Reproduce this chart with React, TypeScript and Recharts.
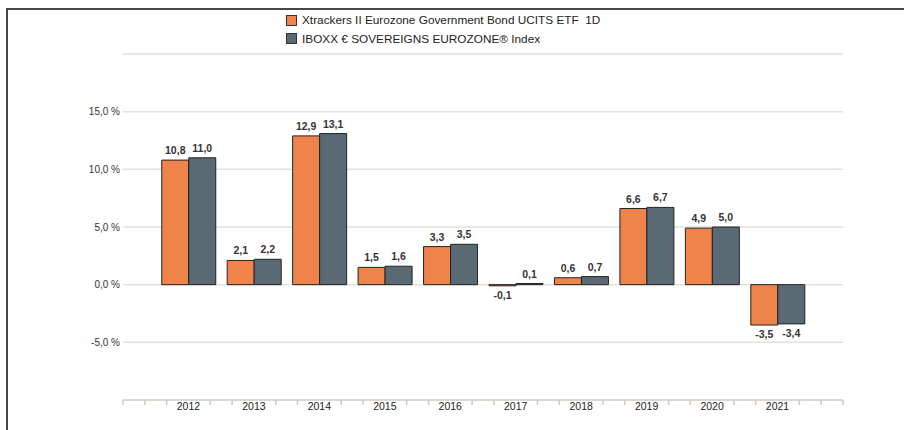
import React from 'react';
import { BarChart, Bar, XAxis, YAxis, CartesianGrid, Legend, LabelList } from 'recharts';

const years = ['2012', '2013', '2014', '2015', '2016', '2017', '2018', '2019', '2020', '2021'];
const etfReturns = [10.8, 2.1, 12.9, 1.5, 3.3, -0.1, 0.6, 6.6, 4.9, -3.5];
const indexReturns = [11.0, 2.2, 13.1, 1.6, 3.5, 0.1, 0.7, 6.7, 5.0, -3.4];
const yTicks = [-10, -5, 0, 5, 10, 15, 20];
const yLabelled = [-5, 0, 5, 10, 15];

const ETF_NAME = 'Xtrackers II Eurozone Government Bond UCITS ETF  1D';
const INDEX_NAME = 'IBOXX € SOVEREIGNS EUROZONE® Index';
const seriesOrder = [ETF_NAME, INDEX_NAME];

const FONT = "'Liberation Sans', Arial, sans-serif";

const data = years.map((year, i) => ({
  year,
  etf: etfReturns[i],
  index: indexReturns[i],
}));

const fmt = (v: number) => v.toFixed(1).replace('.', ',');

const ValueLabel = (props: any) => {
  const { x, y, width, height, value } = props;
  const top = Math.min(y, y + height);
  const bottom = Math.max(y, y + height);
  const neg = value < 0;
  return (
    <text
      x={x + width / 2}
      y={neg ? bottom + 13 : top - 6}
      textAnchor="middle"
      fontSize={10.5}
      fontWeight="bold"
      fill="#333"
      fontFamily={FONT}
    >
      {fmt(value)}
    </text>
  );
};

// year label plus the small marks at thirds of a category step
const YearTick = (props: any) => {
  const { x, y, payload, index } = props;
  const step = (payload.offset || 0) * 2;
  const marks: number[] = [1, 2];
  if (index === 0) marks.push(-1, -2, -3);
  if (index === years.length - 1) marks.push(3);
  return (
    <g>
      {marks.map((k) => (
        <line
          key={k}
          x1={x + (k * step) / 3}
          x2={x + (k * step) / 3}
          y1={y}
          y2={y + 5}
          stroke="#cfcac1"
          strokeWidth={1.5}
        />
      ))}
      <text x={x} y={y + 3} dy="0.71em" textAnchor="middle" fontSize={10.5} fill="#222" fontFamily={FONT}>
        {payload.value}
      </text>
    </g>
  );
};

const LegendBox = (props: any) => {
  const items = [...(props.payload || [])].sort(
    (a: any, b: any) => seriesOrder.indexOf(a.value) - seriesOrder.indexOf(b.value)
  );
  return (
    <div style={{ fontFamily: FONT, fontSize: 11.8, color: '#222' }}>
      {items.map((p: any) => (
        <div key={p.value} style={{ display: 'flex', alignItems: 'center', height: 18.5 }}>
          <span
            style={{
              display: 'inline-block',
              width: 9,
              height: 9,
              background: p.color,
              border: '1px solid #333',
              marginRight: 5,
            }}
          />
          <span style={{ whiteSpace: 'pre' }}>{p.value}</span>
        </div>
      ))}
    </div>
  );
};

export default function App() {
  return (
    <div style={{ position: 'absolute', left: 0, top: 0, width: 904, height: 430, background: '#fff' }}>
      <div
        style={{
          position: 'absolute',
          left: 6,
          top: 8,
          right: 0,
          bottom: 0,
          borderTop: '2px solid #474747',
          borderLeft: '2px solid #474747',
        }}
      />
      <div style={{ position: 'absolute', left: 0, top: 0 }}>
        <BarChart
          width={904}
          height={430}
          data={data}
          margin={{ top: 54, right: 61, bottom: 29, left: 0 }}
          barGap={0}
          barSize={27}
        >
          <CartesianGrid vertical={false} stroke="#e4e1db" strokeWidth={1.5} />
          <YAxis
            width={123}
            domain={[-10, 20]}
            ticks={yTicks}
            allowDataOverflow
            axisLine={false}
            tickLine={false}
            tickSize={0}
            tickMargin={3}
            tick={{ fontSize: 10, fill: '#333', fontFamily: FONT }}
            tickFormatter={(v: number) => (yLabelled.includes(v) ? fmt(v) + ' %' : '')}
          />
          <XAxis
            dataKey="year"
            height={1}
            padding={{ left: 32.75, right: 32.75 }}
            axisLine={{ stroke: '#dcd8d0', strokeWidth: 2 }}
            tickLine={false}
            tickSize={0}
            tickMargin={0}
            interval={0}
            tick={<YearTick />}
          />
          <Legend
            layout="vertical"
            align="center"
            verticalAlign="middle"
            wrapperStyle={{ top: 11, left: 286, width: 420, height: 40 }}
            content={<LegendBox />}
          />
          <Bar dataKey="etf" name={ETF_NAME} fill="#ee844a" stroke="#222" strokeWidth={1} isAnimationActive={false}>
            <LabelList dataKey="etf" content={<ValueLabel />} />
          </Bar>
          <Bar dataKey="index" name={INDEX_NAME} fill="#5a6a75" stroke="#222" strokeWidth={1} isAnimationActive={false}>
            <LabelList dataKey="index" content={<ValueLabel />} />
          </Bar>
        </BarChart>
      </div>
    </div>
  );
}
